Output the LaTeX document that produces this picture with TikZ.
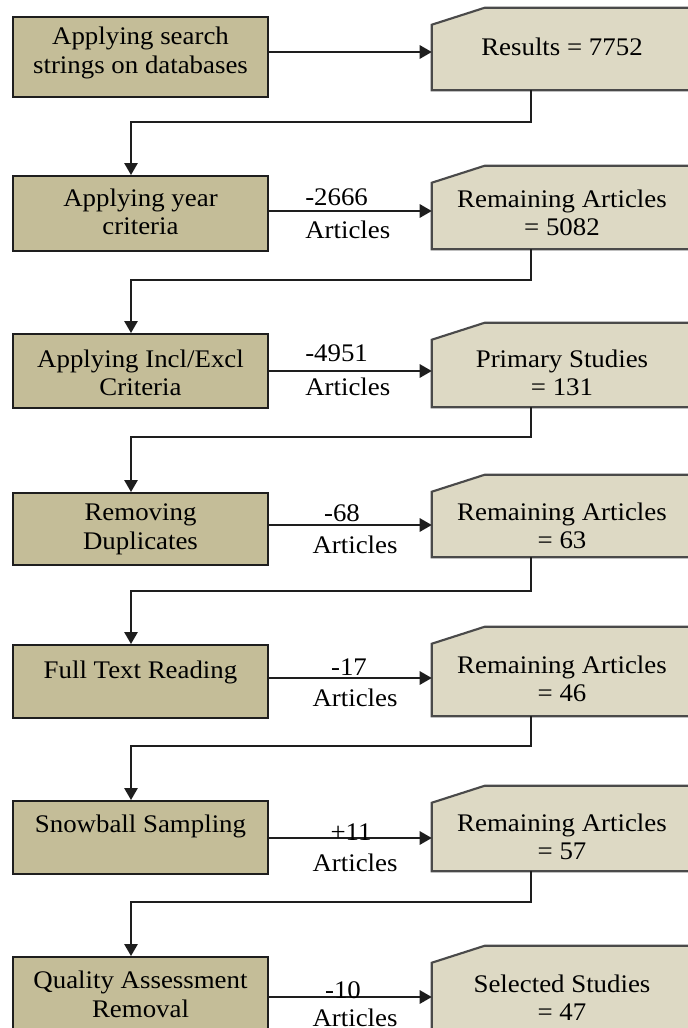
\documentclass[tikz,border=0pt]{standalone}
\usepackage{fontspec}
\setmainfont[FakeStretch=1.06]{Liberation Serif}
\usetikzlibrary{arrows.meta,calc}
\definecolor{stepfill}{HTML}{C4BD98}
\definecolor{countfill}{HTML}{DDD9C4}
\definecolor{stepline}{HTML}{1E1E1E}
\definecolor{countline}{HTML}{4A4A4A}

\begin{document}
\begin{tikzpicture}[x=0.75pt,y=-0.75pt,
  stepbox/.style={rectangle, draw=stepline, fill=stepfill, line width=1.5pt,
    minimum width=191.25pt, inner sep=0pt},
  countbox/.style={rectangle, minimum width=196.5pt, inner sep=0pt},
  countedge/.style={draw=countline, fill=countfill, line width=1.6pt, line join=miter},
  txt/.style={font=\fontsize{19}{21.4}\selectfont, align=center, inner sep=0pt, text=black},
  lbl/.style={font=\fontsize{19}{21.4}\selectfont, inner sep=0pt, text=black},
  flow/.style={line width=1.4pt, draw=stepline, -{Triangle[length=9pt,width=10pt]}},
]
\useasboundingbox (0,0) rectangle (688,1028);
\clip (0,0) rectangle (688,1028);
\fill[white] (0,0) rectangle (688,1028);

% process steps (left column)
\node[stepbox, minimum height=60pt]    (l1) at (140.5,57)    {};
\node[stepbox, minimum height=56.25pt] (l2) at (140.5,213.5) {};
\node[stepbox, minimum height=55.5pt]  (l3) at (140.5,371)   {};
\node[stepbox, minimum height=54pt]    (l4) at (140.5,529)   {};
\node[stepbox, minimum height=54.75pt] (l5) at (140.5,681.5) {};
\node[stepbox, minimum height=54.75pt] (l6) at (140.5,837.5) {};
\node[stepbox, minimum height=62.25pt] (l7) at (140.5,998.5) {};

% article counts (right column): frames with the top-left corner cut off
\node[countbox, minimum height=61.5pt]  (r1) at (563,49)    {};
\node[countbox, minimum height=62.25pt] (r2) at (563,207.5) {};
\node[countbox, minimum height=63pt]    (r3) at (563,365)   {};
\node[countbox, minimum height=61.5pt]  (r4) at (563,516)   {};
\node[countbox, minimum height=66.75pt] (r5) at (563,671.5) {};
\node[countbox, minimum height=63.75pt] (r6) at (563,828.5) {};
\node[countbox, minimum height=70.5pt]  (r7) at (563,993)   {};
\foreach \i in {1,...,7}
  \path[countedge] (r\i.south west) -- ($(r\i.north west)+(0,17)$)
    -- ($(r\i.north west)+(53,0)$) -- (r\i.north east) -- (r\i.south east) -- cycle;

% step texts
\node[txt] (lt1) at (140.5,53)    {Applying search\\strings on databases};
\node[txt] (lt2) at (140.5,212)   {Applying year\\criteria};
\node[txt] (lt3) at (140.5,373)   {Applying Incl/Excl\\Criteria};
\node[txt] (lt4) at (140.5,529.5) {Removing\\Duplicates};
\node[txt] (lt5) at (140.5,672)   {Full Text Reading};
\node[txt] (lt6) at (140.5,826)   {Snowball Sampling};
\node[txt] (lt7) at (140.5,994.5) {Quality Assessment\\Removal};

% count texts
\node[txt] (rt1) at (562,47)    {Results = 7752};
\node[txt] (rt2) at (562,213)   {Remaining Articles\\= 5082};
\node[txt] (rt3) at (562,373)   {Primary Studies\\= 131};
\node[txt] (rt4) at (562,526)   {Remaining Articles\\= 63};
\node[txt] (rt5) at (562,679)   {Remaining Articles\\= 46};
\node[txt] (rt6) at (562,837)   {Remaining Articles\\= 57};
\node[txt] (rt7) at (562,997.5) {Selected Studies\\= 47};

% arrow heights
\coordinate (a1) at (350,52);
\coordinate (a2) at (350,211);
\coordinate (a3) at (350,371);
\coordinate (a4) at (350,525);
\coordinate (a5) at (350,678);
\coordinate (a6) at (350,838);
\coordinate (a7) at (350,997);

% step -> count
\foreach \i in {1,...,7}
  \draw[flow] (l\i.east |- a\i) -- (r\i.west |- a\i);

% count -> next step
\draw[flow] ($(r1.south)+(-32,0)$) -- ++(0,32) -| ($(l2.north)+(-9.5,0)$);
\draw[flow] ($(r2.south)+(-32,0)$) -- ++(0,31) -| ($(l3.north)+(-9.5,0)$);
\draw[flow] ($(r3.south)+(-32,0)$) -- ++(0,30) -| ($(l4.north)+(-9.5,0)$);
\draw[flow] ($(r4.south)+(-32,0)$) -- ++(0,34) -| ($(l5.north)+(-9.5,0)$);
\draw[flow] ($(r5.south)+(-32,0)$) -- ++(0,30) -| ($(l6.north)+(-9.5,0)$);
\draw[flow] ($(r6.south)+(-32,0)$) -- ++(0,31) -| ($(l7.north)+(-9.5,0)$);

% change labels
\node[lbl, anchor=base west] (n2) at (305,205)  {-2666};
\node[lbl, anchor=base west] (m2) at (305,238)  {Articles};
\node[lbl, anchor=base west] (n3) at (305,361)  {-4951};
\node[lbl, anchor=base west] (m3) at (305,395)  {Articles};
\node[lbl, anchor=base] (n4) at (342,521)  {-68};
\node[lbl, anchor=base] (m4) at (355,553)  {Articles};
\node[lbl, anchor=base] (n5) at (349,675)  {-17};
\node[lbl, anchor=base] (m5) at (355,706)  {Articles};
\node[lbl, anchor=base] (n6) at (351,840)  {+11};
\node[lbl, anchor=base] (m6) at (355,871)  {Articles};
\node[lbl, anchor=base] (n7) at (343,998)  {-10};
\node[lbl, anchor=base] (m7) at (355,1026) {Articles};
\end{tikzpicture}
\end{document}
